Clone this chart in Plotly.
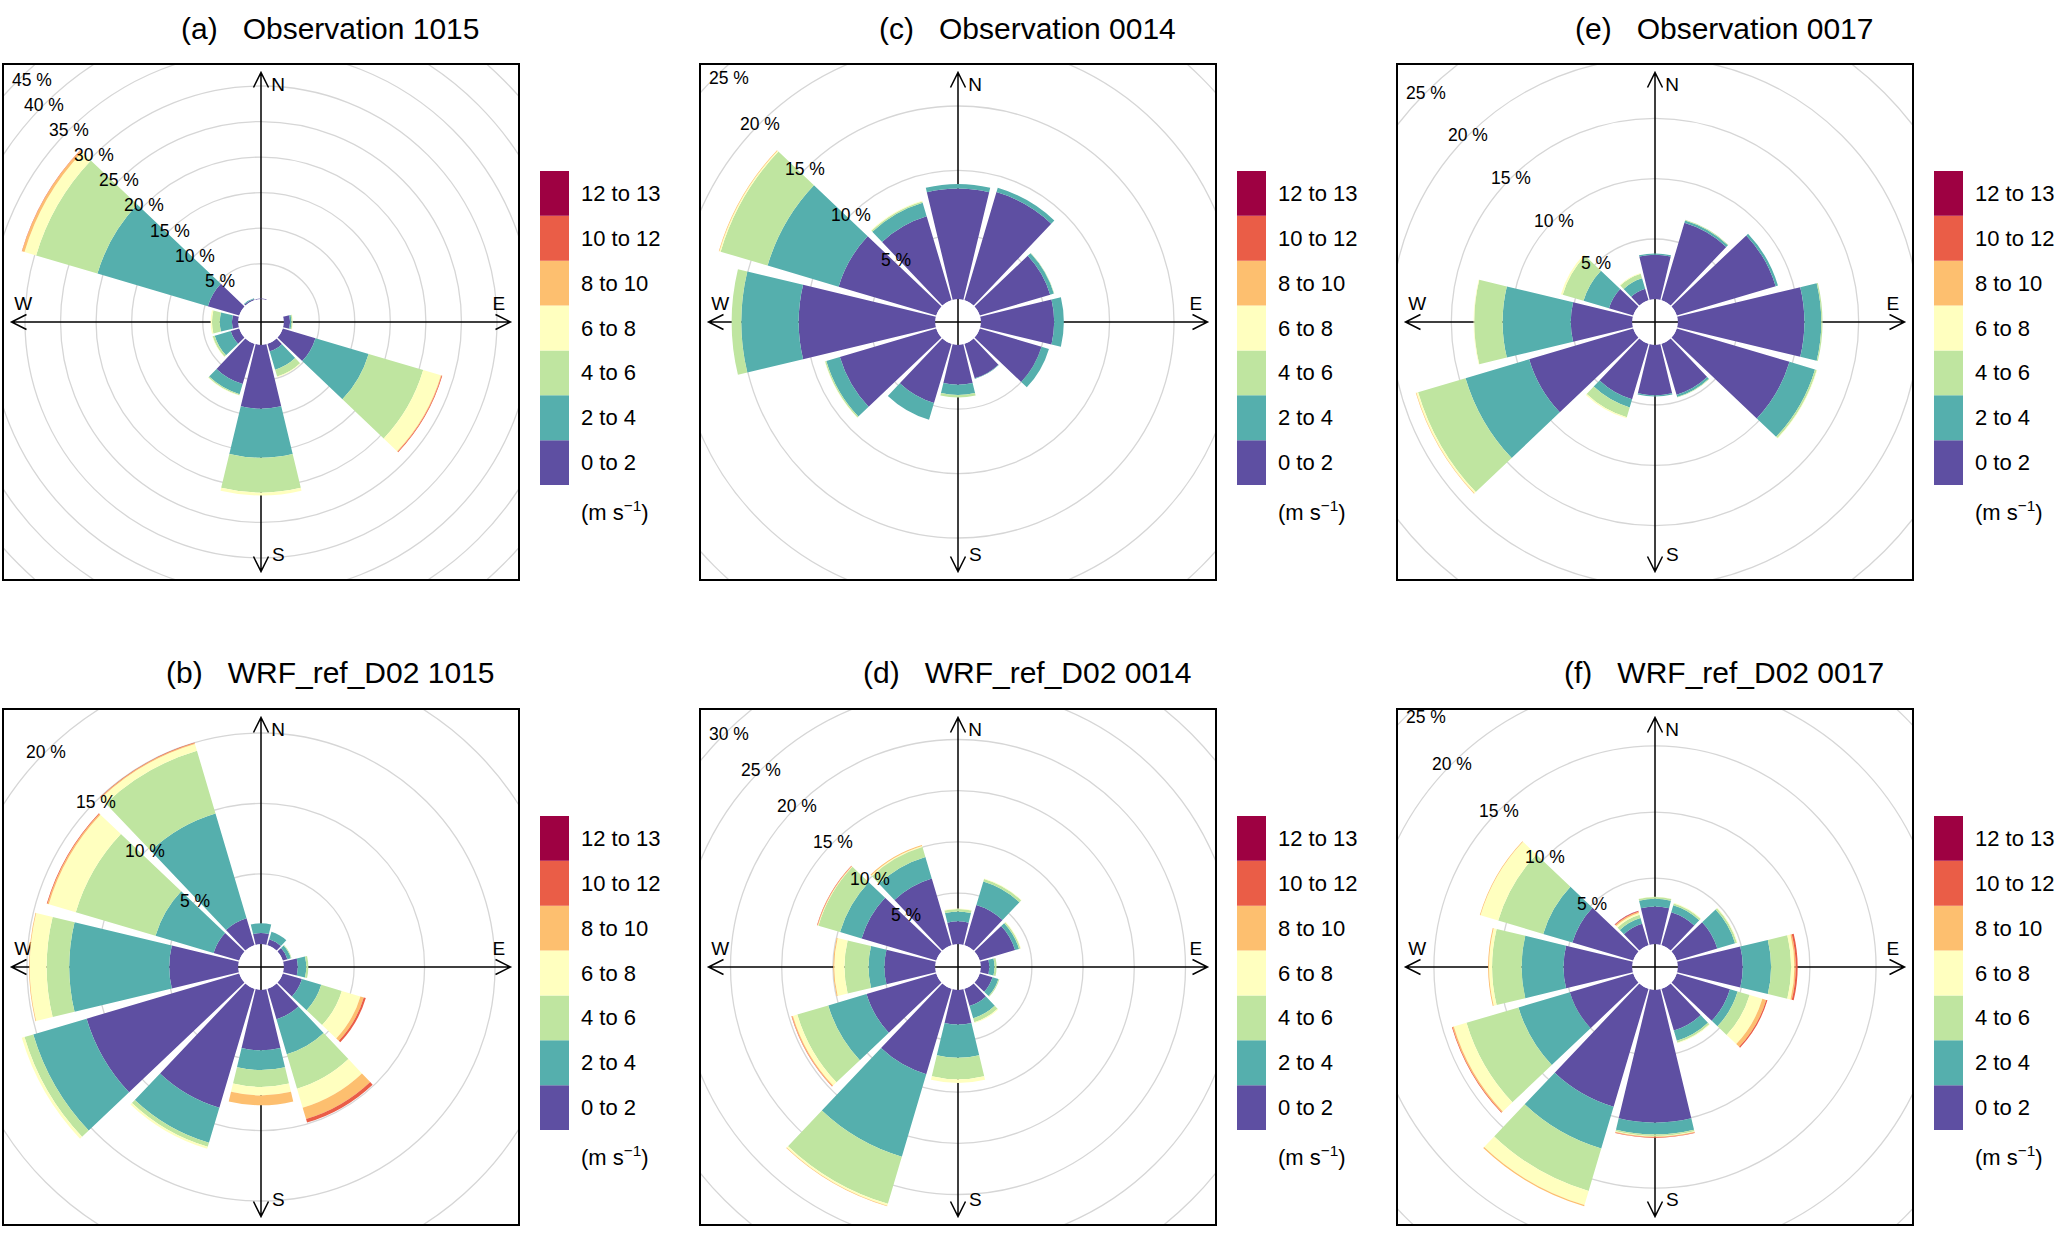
import numpy as np
import plotly.graph_objects as go

W, H = 2067, 1238
FONT = "Liberation Sans, Arial, sans-serif"

directions = [0, 30, 60, 90, 120, 150, 180, 210, 240, 270, 300, 330]
speed_bins = ["0 to 2", "2 to 4", "4 to 6", "6 to 8", "8 to 10", "10 to 12", "12 to 13"]
bin_colors = ["#5E4FA2", "#55AFAD", "#BFE5A0", "#FFFFBF", "#FDBF6F", "#EA5D47", "#9E0142"]

# frequency (%) per direction (rows, N clockwise) and speed bin (columns)
obs_1015 = [
    [0.1, 0, 0, 0, 0, 0, 0],
    [0, 0, 0, 0, 0, 0, 0],
    [0, 0, 0, 0, 0, 0, 0],
    [0.9, 0.2, 0.15, 0.05, 0, 0, 0],
    [4.8, 7.8, 8.0, 2.6, 0.1, 0.1, 0],
    [1.1, 2.7, 1.0, 0.1, 0, 0, 0],
    [9.0, 6.9, 4.9, 0.4, 0, 0, 0],
    [5.9, 1.5, 0.15, 0.05, 0, 0, 0],
    [1.25, 2.35, 0.3, 0.05, 0, 0, 0],
    [0.9, 1.7, 1.1, 0.2, 0, 0, 0],
    [4.6, 16.2, 9.0, 1.7, 0.35, 0.05, 0],
    [0.2, 0.1, 0, 0, 0, 0, 0],
]
wrf_1015 = [
    [0.8, 0.7, 0, 0, 0, 0, 0],
    [0.45, 0.55, 0, 0, 0, 0, 0],
    [0.35, 0.25, 0.05, 0, 0, 0, 0],
    [1.0, 0.6, 0.15, 0, 0, 0, 0],
    [1.42, 1.43, 1.52, 1.38, 0.25, 0.15, 0],
    [2.25, 2.6, 2.55, 1.4, 0.85, 0.25, 0],
    [4.3, 1.4, 1.2, 0.6, 0.7, 0, 0],
    [8.8, 2.6, 0.3, 0.15, 0, 0, 0],
    [11.3, 3.95, 0.65, 0.2, 0, 0, 0],
    [4.9, 7.1, 1.6, 1.2, 0.05, 0, 0],
    [1.9, 4.3, 5.9, 2.0, 0.1, 0.05, 0],
    [2.0, 7.76, 4.64, 0.5, 0.07, 0.03, 0],
]
obs_0014 = [
    [8.6, 0.35, 0, 0, 0, 0, 0],
    [8.75, 0.35, 0, 0, 0, 0, 0],
    [5.7, 0.3, 0.03, 0, 0, 0, 0],
    [5.7, 0.75, 0, 0, 0, 0, 0],
    [5.0, 0.6, 0, 0, 0, 0, 0],
    [2.8, 0.05, 0, 0, 0, 0, 0],
    [3.1, 0.8, 0.2, 0, 0, 0, 0],
    [4.8, 1.35, 0, 0, 0, 0, 0],
    [7.8, 1.1, 0.1, 0.03, 0, 0, 0],
    [10.6, 4.45, 0.75, 0, 0, 0, 0],
    [7.9, 5.75, 3.8, 0.1, 0.05, 0, 0],
    [6.8, 1.1, 0.1, 0.05, 0, 0, 0],
]
wrf_0014 = [
    [2.24, 0.96, 0.25, 0.05, 0, 0, 0],
    [4.1, 2.4, 0.25, 0.05, 0, 0, 0],
    [3.6, 0.4, 0.15, 0.05, 0, 0, 0],
    [0.85, 0.5, 0.2, 0, 0, 0, 0],
    [1.3, 0.6, 0.1, 0, 0, 0, 0],
    [1.75, 1.25, 0.4, 0.1, 0, 0, 0],
    [3.4, 3.25, 2.1, 0.35, 0, 0, 0],
    [8.7, 8.4, 4.8, 0.2, 0.05, 0, 0],
    [7.1, 3.9, 3.15, 0.45, 0.1, 0.05, 0],
    [4.97, 1.55, 2.35, 1.0, 0.1, 0, 0],
    [7.6, 2.2, 2.2, 0.05, 0.05, 0.05, 0],
    [6.8, 2.2, 1.0, 0.1, 0.1, 0, 0],
]
obs_0017 = [
    [3.7, 0.1, 0, 0, 0, 0, 0],
    [6.7, 0.2, 0.05, 0, 0, 0, 0],
    [8.55, 0.2, 0, 0, 0, 0, 0],
    [10.5, 1.4, 0.1, 0, 0, 0, 0],
    [9.75, 2.2, 0.15, 0.05, 0, 0, 0],
    [4.4, 0.2, 0.05, 0, 0, 0, 0],
    [4.2, 0.1, 0, 0, 0, 0, 0],
    [4.8, 0.7, 0.85, 0.1, 0, 0, 0],
    [9.0, 5.5, 4.1, 0.15, 0.05, 0, 0],
    [5.1, 5.65, 2.35, 0.05, 0, 0, 0],
    [2.1, 2.2, 1.8, 0.15, 0, 0, 0],
    [1.0, 0.9, 0.4, 0.05, 0, 0, 0],
]
wrf_0017 = [
    [2.86, 0.58, 0.13, 0.03, 0, 0, 0],
    [2.6, 0.55, 0.15, 0.05, 0, 0, 0],
    [3.2, 1.4, 0.15, 0.05, 0, 0, 0],
    [4.92, 2.14, 1.51, 0.25, 0.1, 0.15, 0],
    [4.2, 0.6, 0.95, 1.0, 0.3, 0.1, 0],
    [3.3, 0.8, 0.15, 0.05, 0, 0, 0],
    [10.05, 0.88, 0.12, 0.05, 0.05, 0.05, 0],
    [9.3, 3.3, 3.35, 1.1, 0.1, 0, 0],
    [5.0, 4.05, 4.1, 1.0, 0.1, 0.05, 0],
    [5.2, 3.17, 2.23, 0.23, 0.07, 0, 0],
    [4.8, 2.3, 3.55, 1.4, 0.05, 0, 0],
    [1.7, 0.45, 0.25, 0.15, 0.1, 0.05, 0.02],
]

titles = ["(a)   Observation 1015", "(b)   WRF_ref_D02 1015",
          "(c)   Observation 0014", "(d)   WRF_ref_D02 0014",
          "(e)   Observation 0017", "(f)   WRF_ref_D02 0017"]
panels = [obs_1015, wrf_1015, obs_0014, wrf_0014, obs_0017, wrf_0017]

# layout in pixels
col_cx = [261, 958, 1655]
row_cy = [322, 967]
HALF = 257          # half size of each square panel
GRID_STEP = 5
LABEL_SIZE = 17.5


def px(x):
    return x / W


def py(y):
    return 1 - y / H


fig = go.Figure()
shapes, annotations = [], []
layout = {}

for i, (data, title) in enumerate(zip(panels, titles)):
    n = i + 1
    col, row = i // 2, i % 2
    cx, cy = col_cx[col], row_cy[row]
    freq = np.array(data, dtype=float)

    # openair style scaling: hole = 10 % of the largest sector
    M = freq.sum(axis=1).max()
    off = 0.1 * M
    A = M + off
    L = 1.03 * A
    unit = L / HALF    # data units per pixel

    dom_x = [px(cx - HALF), px(cx + HALF)]
    dom_y = [py(cy + HALF), py(cy - HALF)]
    pname = "polar" if n == 1 else f"polar{n}"
    xn = "x" if n == 1 else f"x{n}"
    yn = "y" if n == 1 else f"y{n}"

    layout[pname] = dict(
        domain=dict(x=dom_x, y=dom_y), hole=off / L, bgcolor="rgba(0,0,0,0)",
        barmode="stack",
        radialaxis=dict(range=[0, L - off], visible=False),
        angularaxis=dict(rotation=90, direction="clockwise", visible=False),
    )
    layout["xaxis" if n == 1 else f"xaxis{n}"] = dict(
        domain=dom_x, range=[-L, L], anchor=yn, showgrid=False, zeroline=False,
        showticklabels=False, ticks="", showline=True, mirror=True,
        linecolor="black", linewidth=1.5, fixedrange=True)
    layout["yaxis" if n == 1 else f"yaxis{n}"] = dict(
        domain=dom_y, range=[-L, L], anchor=xn, showgrid=False, zeroline=False,
        showticklabels=False, ticks="", showline=True, mirror=True,
        linecolor="black", linewidth=1.5, fixedrange=True)

    for b, name in enumerate(speed_bins):
        fig.add_trace(go.Barpolar(
            r=freq[:, b], theta=directions, width=27, name=name,
            marker=dict(color=bin_colors[b], line=dict(width=0)),
            subplot=pname, showlegend=False, hoverinfo="skip"))

    # grid circles
    k = 1
    while off + GRID_STEP * k < L * 1.42:
        r = off + GRID_STEP * k
        shapes.append(dict(type="circle", xref=xn, yref=yn, x0=-r, x1=r, y0=-r, y1=r,
                           line=dict(color="#D6D6D6", width=1.3), layer="below"))
        k += 1

    # compass arrows
    h = 15 * unit
    w = 7.5 * unit
    path = (f"M{-A},0 L{A},0 M0,{-A} L0,{A} "
            f"M{A-h},{w} L{A},0 L{A-h},{-w} M{-A+h},{w} L{-A},0 L{-A+h},{-w} "
            f"M{w},{A-h} L0,{A} L{-w},{A-h} M{w},{-A+h} L0,{-A} L{-w},{-A+h}")
    shapes.append(dict(type="path", xref=xn, yref=yn, path=path,
                       line=dict(color="black", width=1.5), layer="below"))

    fig.add_trace(go.Scatter(
        x=[0.069 * A, 0.069 * A, -0.953 * A, 0.953 * A],
        y=[0.944 * A, -0.94 * A, 0.069 * A, 0.069 * A],
        text=["N", "S", "W", "E"], mode="text", xaxis=xn, yaxis=yn,
        textfont=dict(size=19, family=FONT, color="black"),
        cliponaxis=False, hoverinfo="skip", showlegend=False))

    # percentage labels along the NW diagonal, kept inside the frame
    k = 1
    while GRID_STEP * k <= 2 * M:
        p = (off + GRID_STEP * k) / np.sqrt(2)
        txt = f"{GRID_STEP * k} %"
        if p < L:
            half_w = (0.556 * (len(txt) - 2) + 1.167) * LABEL_SIZE / 2
            x = max(-p, -L + (8 + half_w) * unit)
            annotations.append(dict(
                x=x, y=p, xref=xn, yref=yn, text=txt, showarrow=False,
                xanchor="center", yanchor="middle",
                font=dict(size=LABEL_SIZE, family=FONT, color="black")))
        k += 1

    # title
    annotations.append(dict(
        x=px(cx + 69), y=py(row_cy[row] - 294), xref="paper", yref="paper",
        text=title.replace(" ", "\u00a0"), showarrow=False,
        xanchor="center", yanchor="middle",
        font=dict(size=30, family=FONT, color="black")))

    # colour key
    top = cy - 151
    step = 44.86
    for b, name in enumerate(speed_bins):
        y0 = top + (len(speed_bins) - 1 - b) * step
        shapes.append(dict(type="rect", xref="paper", yref="paper",
                           x0=px(cx + 279), x1=px(cx + 308), y0=py(y0 + step), y1=py(y0),
                           fillcolor=bin_colors[b], line=dict(width=0)))
        annotations.append(dict(
            x=px(cx + 318), y=py(y0 + step / 2), xref="paper", yref="paper",
            text=name, showarrow=False, xanchor="left", yanchor="middle",
            font=dict(size=22, family=FONT, color="black")))
    annotations.append(dict(
        x=px(cx + 318), y=py(cy + 189), xref="paper", yref="paper",
        text="(m s<sup>\u22121</sup>)", showarrow=False, xanchor="left", yanchor="middle",
        font=dict(size=22, family=FONT, color="black")))

fig.update_layout(
    width=W, height=H, margin=dict(l=0, r=0, t=0, b=0),
    paper_bgcolor="white", plot_bgcolor="rgba(0,0,0,0)",
    shapes=shapes, annotations=annotations, showlegend=False,
    **layout)

fig.write_html("out.html", config={"displayModeBar": False},
               post_script="document.body.style.margin='0';")
